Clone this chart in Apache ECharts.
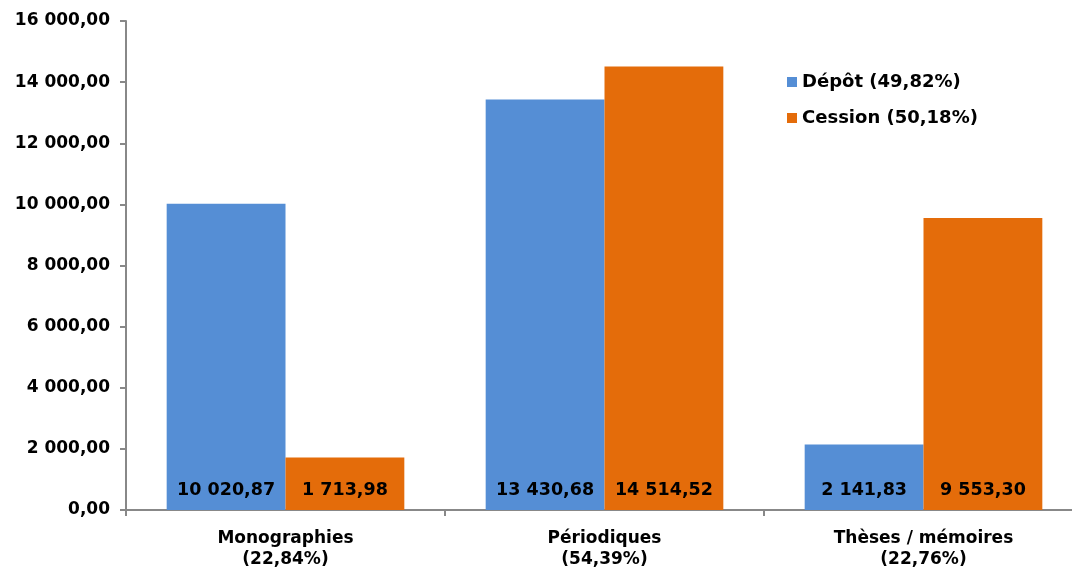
<!DOCTYPE html>
<html><head><meta charset="utf-8">
<script src="https://cdn.jsdelivr.net/npm/echarts@6/dist/echarts.min.js"></script>
<style>html,body{margin:0;padding:0;background:#fff}#c{width:1072px;height:568px}</style>
</head><body><div id="c"></div>
<script>
const categories = ['Monographies\n(22,84%)', 'Périodiques\n(54,39%)', 'Thèses / mémoires\n(22,76%)'];
const depot = [10020.87, 13430.68, 2141.83];
const cession = [1713.98, 14514.52, 9553.30];
const seriesNames = ['Dépôt (49,82%)', 'Cession (50,18%)'];

function fr(v, d) {
  const s = v.toFixed(d).split('.');
  const i = s[0].replace(/\B(?=(\d{3})+(?!\d))/g, ' ');
  return s.length > 1 ? i + ',' + s[1] : i;
}
const font = 'DejaVu Sans';
const chart = echarts.init(document.getElementById('c'));
const lbl = {
  show: true, position: 'insideBottom', distance: 11,
  formatter: p => fr(p.value, 2), color: '#000', fontFamily: font, fontWeight: 'bold', fontSize: 17.5
};
chart.setOption({
  animation: false,
  grid: { left: 126, width: 957, top: 21, bottom: 58, containLabel: false, outerBoundsMode: 'none' },
  legend: {
    orient: 'vertical', left: 782, top: 68, itemWidth: 10, itemHeight: 10, itemGap: 18,
    icon: 'rect',
    textStyle: { fontFamily: font, fontWeight: 'bold', fontSize: 18, color: '#000' },
    data: seriesNames
  },
  xAxis: {
    type: 'category', data: categories,
    axisLine: { lineStyle: { color: '#888', width: 2 } },
    axisTick: { show: true, length: 6, lineStyle: { color: '#888', width: 2 } },
    axisLabel: { fontFamily: font, fontWeight: 'bold', fontSize: 17, color: '#000', margin: 18, lineHeight: 21 }
  },
  yAxis: {
    type: 'value', min: 0, max: 16000, interval: 2000,
    splitLine: { show: false },
    axisLine: { show: true, lineStyle: { color: '#888', width: 2 } },
    axisTick: { show: true, length: 6, lineStyle: { color: '#888', width: 2 } },
    axisLabel: { formatter: v => fr(v, 2), fontFamily: font, fontWeight: 'bold', fontSize: 17, color: '#000', margin: 16 }
  },
  series: [
    { name: seriesNames[0], type: 'bar', data: depot, barGap: '0%', barCategoryGap: '25.5%',
      itemStyle: { color: '#558ED5' }, label: lbl },
    { name: seriesNames[1], type: 'bar', data: cession,
      itemStyle: { color: '#E46C0A' }, label: lbl }
  ]
});
</script></body></html>
